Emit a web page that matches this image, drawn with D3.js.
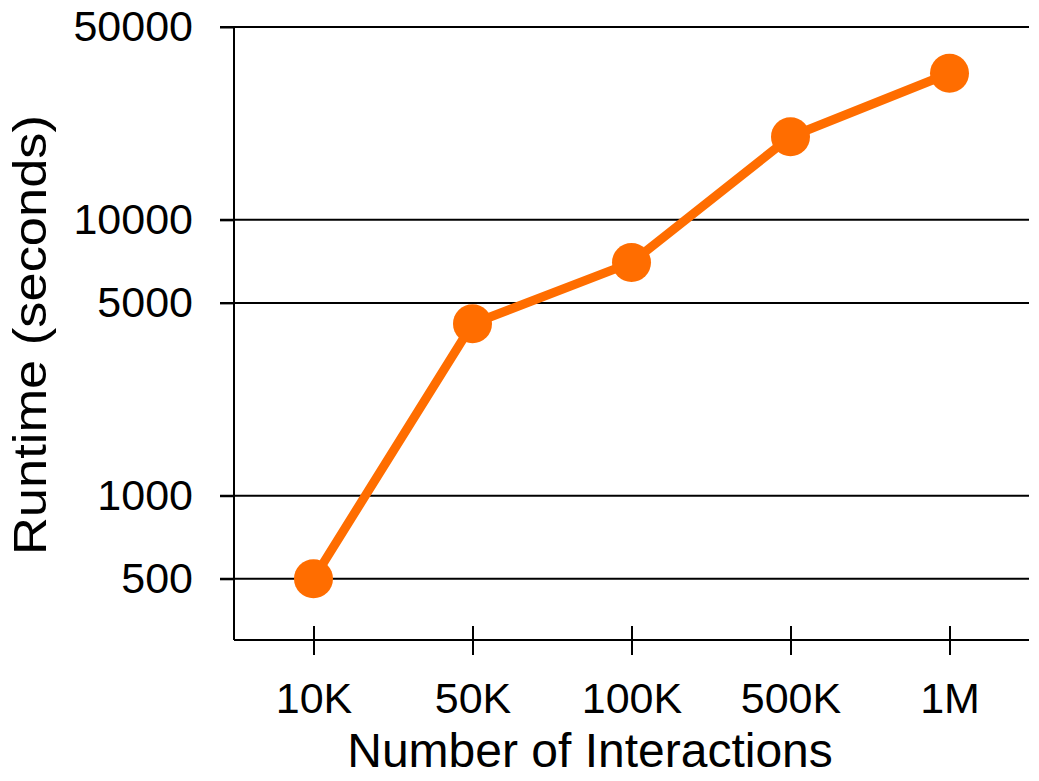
<!DOCTYPE html>
<html><head><meta charset="utf-8">
<script src="https://cdn.jsdelivr.net/npm/d3@7"></script>
<style>body{margin:0;background:#fff;} text{font-family:"Liberation Sans",Arial,sans-serif;fill:#000;}</style>
</head><body>
<svg id="chart" width="1039" height="781"></svg>
<script>
const categories = ["10K","50K","100K","500K","1M"];
const runtimes = [500, 4200, 7000, 20000, 34000];
const yTicks = [500, 1000, 5000, 10000, 50000];
const xTitle = "Number of Interactions";
const yTitle = "Runtime (seconds)";

(function(){
const svg = d3.select("#chart");
const mLeft = 234, mRight = 1029, mTop = 27, mBottom = 640;
const x = d3.scalePoint().domain(categories).range([mLeft, mRight]).padding(0.5);
const y = d3.scaleLog().domain([300, 50000]).range([mBottom, mTop]);
const color = "#ff6d00";

// gridlines
svg.append("g").selectAll("line").data(yTicks).join("line")
  .attr("x1", mLeft - 14).attr("x2", mRight)
  .attr("y1", d => y(d)).attr("y2", d => y(d))
  .attr("stroke", "#000").attr("stroke-width", 2);

// y axis
const yAxis = svg.append("g").attr("transform", `translate(${mLeft},0)`)
  .call(d3.axisLeft(y).tickValues(yTicks).tickFormat(d3.format("d")).tickSize(14).tickPadding(27));
yAxis.select(".domain").attr("d", `M0,${mTop}V${mBottom}`).attr("stroke-width", 2);
yAxis.selectAll(".tick line").attr("stroke-width", 2);
yAxis.selectAll("text").style("font-size", "43px").attr("fill", "#000");

// x axis
const xAxis = svg.append("g").attr("transform", `translate(0,${mBottom})`)
  .call(d3.axisBottom(x).tickSize(15).tickPadding(27));
xAxis.select(".domain").attr("d", `M${mLeft},0H${mRight}`).attr("stroke-width", 2);
xAxis.selectAll(".tick line").attr("y1", -14).attr("stroke-width", 2);
xAxis.selectAll("text").style("font-size", "43px").attr("fill", "#000");

// line
const data = categories.map((c, i) => ({c, v: runtimes[i]}));
svg.append("path").datum(data)
  .attr("fill", "none").attr("stroke", color).attr("stroke-width", 9)
  .attr("stroke-linejoin", "round")
  .attr("d", d3.line().x(d => x(d.c)).y(d => y(d.v)));
svg.append("g").selectAll("circle").data(data).join("circle")
  .attr("cx", d => x(d.c)).attr("cy", d => y(d.v)).attr("r", 19.5).attr("fill", color);

// titles
svg.append("text").attr("x", 590).attr("y", 767)
  .attr("text-anchor", "middle").style("font-size", "48px").text(xTitle);
svg.append("text").attr("transform", `translate(46,335) rotate(-90)`)
  .attr("text-anchor", "middle").style("font-size", "47px")
  .attr("textLength", 440).attr("lengthAdjust", "spacingAndGlyphs").text(yTitle);
})();
</script>
</body></html>
